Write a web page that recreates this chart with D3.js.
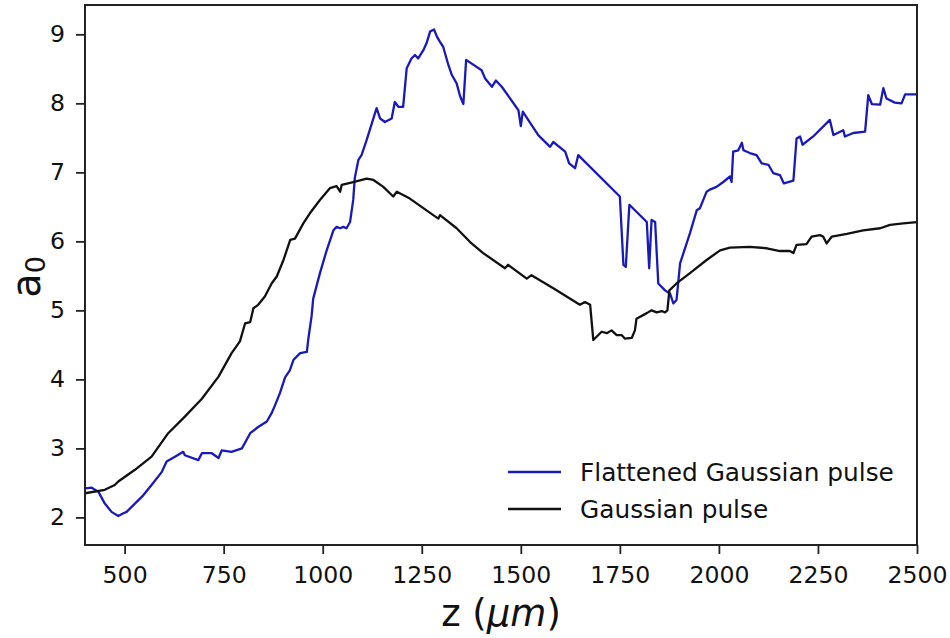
<!DOCTYPE html>
<html>
    <head>
        <meta charset="utf-8">
        <title>a0 vs z</title>
        <script src="https://d3js.org/d3.v7.min.js"></script>
        <style>
            body { margin: 0; background: #fff; }
            text { font-family: "DejaVu Sans", sans-serif; fill: #111; }
        </style>
    </head>
    <body>
        <svg width="950" height="638"></svg>
        <script>
            // z positions (um) and a0 values
            var zFlat = [400,417,434,450,467,484,497,505,526,547,568,594,606,627,648,652,686,695,720,737,745,770,796,817,837,859,871,880,892,905,917,926,943,960,964,972,976,993,1010,1027,1035,1044,1052,1060,1069,1077,1081,1090,1098,1111,1124,1136,1145,1157,1174,1182,1191,1203,1212,1224,1233,1241,1254,1262,1271,1281,1288,1296,1304,1317,1326,1338,1347,1355,1362,1401,1410,1427,1437,1452,1494,1500,1505,1544,1574,1582,1612,1622,1637,1645,1750,1759,1765,1774,1818,1824,1830,1839,1847,1864,1877,1885,1893,1902,1927,1944,1952,1969,1977,1994,2011,2028,2032,2036,2049,2058,2062,2078,2095,2108,2125,2137,2154,2164,2188,2196,2205,2211,2238,2280,2289,2314,2318,2339,2369,2377,2386,2407,2415,2423,2444,2461,2470,2500];
            var aFlat = [2.42,2.43,2.37,2.20,2.08,2.02,2.06,2.08,2.20,2.32,2.47,2.66,2.81,2.88,2.95,2.90,2.83,2.93,2.93,2.86,2.97,2.95,3.00,3.22,3.31,3.39,3.51,3.63,3.80,4.03,4.13,4.28,4.38,4.40,4.60,4.92,5.17,5.54,5.87,6.16,6.21,6.19,6.21,6.19,6.28,6.60,6.92,7.18,7.25,7.47,7.71,7.93,7.78,7.73,7.78,8.02,7.95,7.95,8.51,8.65,8.70,8.65,8.77,8.87,9.04,9.07,8.97,8.89,8.82,8.56,8.41,8.29,8.10,7.99,8.63,8.48,8.36,8.24,8.33,8.24,7.90,7.67,7.88,7.54,7.37,7.44,7.30,7.13,7.06,7.25,6.65,5.66,5.63,6.53,6.28,5.61,6.31,6.28,5.39,5.29,5.24,5.10,5.15,5.68,6.12,6.45,6.48,6.72,6.75,6.79,6.86,6.94,6.86,7.30,7.32,7.43,7.32,7.28,7.25,7.13,7.11,6.99,6.96,6.84,6.88,7.49,7.52,7.40,7.52,7.76,7.54,7.61,7.52,7.57,7.59,8.12,7.99,7.98,8.22,8.07,8.01,8.00,8.13,8.13];

            var zGauss = [400,450,475,484,526,568,610,652,695,737,770,791,804,817,825,837,854,871,884,901,918,930,951,968,993,1018,1035,1044,1048,1077,1111,1128,1153,1178,1187,1220,1279,1292,1296,1338,1372,1405,1460,1468,1515,1527,1582,1649,1662,1675,1683,1704,1717,1729,1742,1755,1763,1780,1788,1792,1818,1830,1843,1856,1864,1870,1875,1893,1927,1969,2003,2028,2078,2121,2154,2179,2188,2196,2221,2234,2255,2263,2272,2285,2323,2364,2407,2432,2465,2500];
            var aGauss = [2.35,2.40,2.47,2.52,2.69,2.88,3.22,3.46,3.72,4.04,4.38,4.55,4.81,4.83,5.03,5.08,5.20,5.39,5.49,5.73,6.02,6.04,6.26,6.41,6.60,6.77,6.80,6.72,6.82,6.86,6.91,6.89,6.79,6.65,6.72,6.62,6.38,6.33,6.38,6.19,5.99,5.83,5.61,5.66,5.46,5.51,5.32,5.08,5.12,5.08,4.57,4.69,4.67,4.71,4.64,4.64,4.59,4.60,4.71,4.88,4.96,5.00,4.97,4.99,4.97,5.00,5.29,5.39,5.54,5.73,5.87,5.91,5.92,5.90,5.86,5.86,5.83,5.95,5.96,6.07,6.09,6.07,5.97,6.07,6.11,6.16,6.19,6.24,6.26,6.28];

            var xTicks = [500,750,1000,1250,1500,1750,2000,2250,2500];
            var yTicks = [2,3,4,5,6,7,8,9];
            var seriesNames = ["Flattened Gaussian pulse", "Gaussian pulse"];
            var seriesColors = ["#1a1ab8", "#111111"];

            var svg = d3.select("svg"),
                mLeft = 85, mTop = 5, mRight = 917, mBottom = 545;

            var x = d3.scaleLinear().domain([400, 2500]).range([mLeft, mRight]);
            var y = d3.scaleLinear().domain([1.6, 9.425]).range([mBottom, mTop]);

            var fs = "23.6px";

            svg.append("g")
                .attr("transform", "translate(0," + mBottom + ")")
                .call(d3.axisBottom(x).tickValues(xTicks).tickFormat(d3.format("d")).tickSize(9).tickPadding(12))
                .call(function(g) { g.select(".domain").remove(); })
                .call(function(g) {
                    g.selectAll("line").attr("stroke", "#222").attr("stroke-width", 1.8);
                    g.selectAll("text").attr("font-size", fs).attr("font-family", "DejaVu Sans").attr("fill", "#111");
                });

            svg.append("g")
                .attr("transform", "translate(" + mLeft + ",0)")
                .call(d3.axisLeft(y).tickValues(yTicks).tickFormat(d3.format("d")).tickSize(9).tickPadding(11))
                .call(function(g) { g.select(".domain").remove(); })
                .call(function(g) {
                    g.selectAll("line").attr("stroke", "#222").attr("stroke-width", 1.8);
                    g.selectAll("text").attr("font-size", fs).attr("font-family", "DejaVu Sans").attr("fill", "#111");
                });

            var line = d3.line()
                .x(function(d) { return x(d[0]); })
                .y(function(d) { return y(d[1]); });

            var flat = zFlat.map(function(z, i) { return [z, aFlat[i]]; });
            var gauss = zGauss.map(function(z, i) { return [z, aGauss[i]]; });

            svg.append("path").datum(flat)
                .attr("d", line)
                .attr("fill", "none")
                .attr("stroke", seriesColors[0])
                .attr("stroke-width", 2.3)
                .attr("stroke-linejoin", "round");

            svg.append("path").datum(gauss)
                .attr("d", line)
                .attr("fill", "none")
                .attr("stroke", seriesColors[1])
                .attr("stroke-width", 2.3)
                .attr("stroke-linejoin", "round");

            // frame
            svg.append("rect")
                .attr("x", mLeft).attr("y", mTop)
                .attr("width", mRight - mLeft).attr("height", mBottom - mTop)
                .attr("fill", "none")
                .attr("stroke", "#222")
                .attr("stroke-width", 2);

            // legend
            var legend = svg.append("g").attr("transform", "translate(508,472)");
            seriesNames.forEach(function(name, i) {
                legend.append("line")
                    .attr("x1", 0).attr("x2", 53)
                    .attr("y1", i * 37).attr("y2", i * 37)
                    .attr("stroke", seriesColors[i])
                    .attr("stroke-width", 2.3);
                legend.append("text")
                    .attr("x", 72).attr("y", i * 37 + 9)
                    .attr("font-size", "24.8px")
                    .text(name);
            });

            // axis labels
            var xl = svg.append("text")
                .attr("x", (mLeft + mRight) / 2)
                .attr("y", 626)
                .attr("text-anchor", "middle")
                .attr("font-size", "37px");
            xl.append("tspan").text("z (");
            xl.append("tspan").attr("font-style", "italic").text("μm");
            xl.append("tspan").text(")");

            var yl = svg.append("text")
                .attr("transform", "translate(40,277) rotate(-90)")
                .attr("text-anchor", "middle");
            yl.append("tspan").attr("font-size", "40px").text("a");
            yl.append("tspan").attr("font-size", "27px").attr("dy", 5).text("0");
        </script>
    </body>
</html>
